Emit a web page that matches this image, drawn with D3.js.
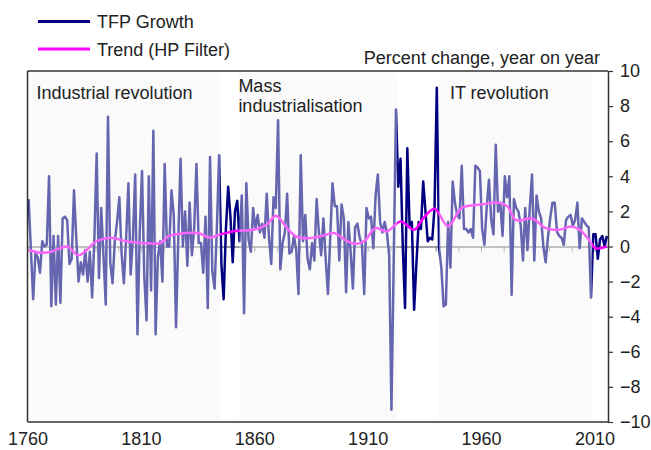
<!DOCTYPE html>
<html>
<head>
<meta charset="utf-8">
<script src="https://cdn.jsdelivr.net/npm/d3@7"></script>
<style>
body { margin: 0; background: #fff; }
text { font-family: "Liberation Sans", Arial, sans-serif; fill: #222; }
</style>
</head>
<body>
<div id="chart"></div>
<script>
// TFP growth, one value per year from 1760 to 2015
var firstYear = 1760;
var tfp = [
	2.7, -0.2, -3.0, -0.4, -0.6, -1.5, 0.3, 0.0, 0.1, 4.0,
	-3.4, 0.6, -3.3, 0.6, -3.2, 1.6, 1.7, 1.5, -1.0, -0.7,
	3.2, 0.5, -2.0, -0.9, -1.6, -0.2, -2.0, -0.3, -2.9, 0.5,
	5.3, -1.8, 2.2, -0.5, -3.3, 7.4, -0.9, -2.1, 0.3, 1.4,
	2.8, -0.4, -2.1, 0.5, 3.6, -1.6, 0.5, 4.1, -5.0, 0.8,
	4.3, -1.7, -4.2, 4.0, -2.5, 6.6, -5.0, -0.6, 0.3, -2.0,
	4.7, 0.0, 0.0, 3.2, 1.8, -4.6, 0.5, 5.0, 0.0, 2.0,
	-1.1, 2.5, -0.5, 1.0, 4.7, 0.2, 0.2, -1.5, 1.7, -3.5,
	5.1, -1.4, -2.4, 1.0, 5.2, -1.0, -3.0, 1.0, 3.4, 1.7,
	-0.9, 2.0, 2.6, 0.3, 2.9, -3.8, 3.6, 0.4, -0.3, 2.2,
	1.0, 1.8, 0.8, 1.3, 0.5, 3.0, 0.5, -1.0, 2.8, 2.2,
	7.2, -1.3, 0.2, 0.8, 3.0, -0.4, -0.3, 0.6, -0.2, -2.7,
	5.2, 0.3, 1.8, -0.7, -1.3, 0.2, -0.8, 2.7, 0.8, -0.5,
	1.6, -0.7, -2.7, 0.5, 3.6, 2.3, 2.3, -0.8, 2.4, 1.6,
	-2.6, 1.4, -0.3, -2.4, 1.1, 1.3, 0.5, 0.1, -2.7, 2.2,
	1.6, 1.7, -0.1, 2.9, 4.1, 1.4, 0.8, 1.4, 0.8, -0.5,
	-9.3, -0.8, 7.8, 3.4, 5.0, 0.0, -3.5, 5.6, 1.2, 1.4,
	-3.6, -1.0, 1.4, 1.0, 3.7, 2.0, 0.3, 0.5, 0.4, 2.2,
	9.05, -0.1, -1.2, -3.4, -3.3, 1.4, -1.2, 3.7, 2.5, 1.8,
	1.6, 4.6, 1.0, 1.0, 0.8, 1.0, 0.5, 4.6, 4.5, 4.3,
	1.0, 0.1, 2.2, 3.8, 1.5, 0.7, 5.8, 2.0, 2.5, 0.6,
	4.0, 2.8, 4.0, -2.75, 2.7, 2.2, 2.0, 1.2, -0.8, 2.2,
	-0.2, 2.2, 4.1, -0.8, 2.9, 2.0, 1.6, 0.0, -0.9, 0.5,
	1.6, 2.5, 2.5, 0.85, 0.6, 0.5, 0.1, 1.5, 1.7, 1.8,
	1.2, 1.5, 2.5, -0.1, 1.6, 1.4, 1.2, 1.1, -2.9, 0.7,
	0.7, -0.7, 0.4, 0.6, 0.0, 0.6
];

// HP filter trend, read at turning points
var trendYears = [1760, 1765, 1770, 1777, 1782, 1790, 1796, 1803, 1810, 1818,
	1822, 1828, 1835, 1840, 1844, 1852, 1859, 1865, 1869, 1874,
	1878, 1884, 1890, 1895, 1899, 1904, 1908, 1913, 1918, 1924,
	1930, 1934, 1939, 1945, 1951, 1960, 1967, 1971, 1975, 1982,
	1988, 1994, 1999, 2003, 2007, 2010, 2015];
var trendValues = [-0.2, -0.35, -0.3, 0.0, -0.5, 0.3, 0.5, 0.3, 0.2, 0.2,
	0.6, 0.75, 0.75, 0.5, 0.67, 0.9, 0.95, 1.24, 1.75, 1.05,
	0.57, 0.48, 0.63, 0.76, 0.42, 0.15, 0.3, 1.05, 0.86, 1.43,
	0.95, 1.6, 2.15, 1.15, 2.2, 2.4, 2.5, 2.3, 1.5, 1.6,
	1.05, 0.95, 1.14, 0.95, 0.4, -0.1, 0.0];

// eras (start year, end year)
var eraNames = [["Industrial revolution"], ["Mass", "industrialisation"], ["IT revolution"]];
var eraStart = [1760, 1853, 1941];
var eraEnd = [1845, 1923, 2009];

var yTicks = [-10, -8, -6, -4, -2, 0, 2, 4, 6, 8, 10];
var xLabels = [1760, 1810, 1860, 1910, 1960, 2010];
var seriesNames = ["TFP Growth", "Trend (HP Filter)"];
var seriesColors = ["#000080", "#ff00ff"];

var width = 651, height = 450;
var plotLeft = 27.5, plotRight = 608, plotTop = 71, plotBottom = 422;

var svg = d3.select("#chart").append("svg")
	.attr("width", width)
	.attr("height", height);

// category edges: each year is one slot
var x = d3.scaleLinear()
	.domain([firstYear, firstYear + tfp.length])
	.range([plotLeft, plotRight]);
var y = d3.scaleLinear()
	.domain([-10, 10])
	.range([plotBottom, plotTop]);

var data = tfp.map(function(v, i) { return {year: firstYear + i, value: v}; });
var trend = trendYears.map(function(yr, i) { return {year: yr, value: trendValues[i]}; });

// zero line with small ticks every 10 years
var zeroAxis = d3.axisBottom(x)
	.tickValues(d3.range(firstYear, firstYear + tfp.length + 1, 10))
	.tickSize(5)
	.tickSizeOuter(0)
	.tickFormat("");
var za = svg.append("g")
	.attr("transform", "translate(0," + y(0) + ")")
	.call(zeroAxis);
za.select(".domain").attr("stroke", "#808080").attr("stroke-width", 1.5);
za.selectAll(".tick line").attr("stroke", "#808080").attr("stroke-width", 1);

// TFP line
svg.append("path")
	.datum(data)
	.attr("fill", "none")
	.attr("stroke", seriesColors[0])
	.attr("stroke-width", 2.5)
	.attr("stroke-linejoin", "round")
	.attr("d", d3.line()
		.x(function(d) { return x(d.year + 0.5); })
		.y(function(d) { return y(d.value); }));

// trend line
svg.append("path")
	.datum(trend)
	.attr("fill", "none")
	.attr("stroke", seriesColors[1])
	.attr("stroke-width", 2.5)
	.attr("d", d3.line()
		.curve(d3.curveCatmullRom.alpha(0.5))
		.x(function(d) { return x(d.year + 0.5); })
		.y(function(d) { return y(d.value); }));

// era boxes (semi transparent, fade the lines behind)
svg.selectAll(".era")
	.data(eraStart)
	.enter().append("rect")
	.attr("x", function(d, i) { return x(d) + 1; })
	.attr("y", plotTop + 2)
	.attr("width", function(d, i) { return x(eraEnd[i]) - x(d) - 1; })
	.attr("height", plotBottom - plotTop - 4)
	.attr("fill", "#f4f4f4")
	.attr("fill-opacity", 0.42);

var labelDx = [9, 0, 12];
var labelY = [99, 92, 99];
eraNames.forEach(function(lines, i) {
	var t = svg.append("text")
		.attr("x", x(eraStart[i]) + labelDx[i])
		.attr("y", labelY[i])
		.style("font-size", "18px");
	lines.forEach(function(s, j) {
		t.append("tspan")
			.attr("x", x(eraStart[i]) + labelDx[i])
			.attr("dy", j == 0 ? 0 : 20)
			.text(s);
	});
});

// frame
svg.append("line").attr("x1", plotLeft).attr("x2", plotRight).attr("y1", plotTop).attr("y2", plotTop)
	.attr("stroke", "#333").attr("stroke-width", 1.5);
svg.append("line").attr("x1", plotLeft).attr("x2", plotRight).attr("y1", plotBottom).attr("y2", plotBottom)
	.attr("stroke", "#333").attr("stroke-width", 1.5);
svg.append("line").attr("x1", plotLeft).attr("x2", plotLeft).attr("y1", plotTop).attr("y2", plotBottom)
	.attr("stroke", "#333").attr("stroke-width", 1.5);

// right value axis
var yAxis = d3.axisRight(y)
	.tickValues(yTicks)
	.tickSize(5)
	.tickPadding(7)
	.tickSizeOuter(0);
var ya = svg.append("g")
	.attr("transform", "translate(" + plotRight + ",0)")
	.call(yAxis);
ya.select(".domain").attr("stroke", "#333").attr("stroke-width", 1.5);
ya.selectAll(".tick line").attr("stroke", "#333").attr("stroke-width", 1.2);
ya.selectAll(".tick text")
	.style("font-size", "18px")
	.style("font-family", "'Liberation Sans', Arial, sans-serif")
	.attr("fill", "#222");

// year labels under the plot
var xAxis = d3.axisBottom(x)
	.tickValues(xLabels)
	.tickSize(0)
	.tickPadding(0)
	.tickFormat(d3.format("d"));
var xa = svg.append("g")
	.attr("transform", "translate(0," + (plotBottom + 10) + ")")
	.call(xAxis);
xa.select(".domain").remove();
xa.selectAll(".tick text")
	.style("font-size", "18px")
	.style("font-family", "'Liberation Sans', Arial, sans-serif")
	.attr("fill", "#222");

svg.append("text")
	.attr("x", 600)
	.attr("y", 64)
	.attr("text-anchor", "end")
	.style("font-size", "18px")
	.text("Percent change, year on year");

// legend
var legend = svg.selectAll(".legend")
	.data(seriesNames)
	.enter().append("g")
	.attr("transform", function(d, i) { return "translate(38," + (21.5 + i * 27.5) + ")"; });
legend.append("line")
	.attr("x1", 0).attr("x2", 52)
	.attr("stroke", function(d, i) { return seriesColors[i]; })
	.attr("stroke-width", 3);
legend.append("text")
	.attr("x", 59)
	.attr("y", 6.5)
	.style("font-size", "18px")
	.text(function(d) { return d; });
</script>
</body>
</html>
